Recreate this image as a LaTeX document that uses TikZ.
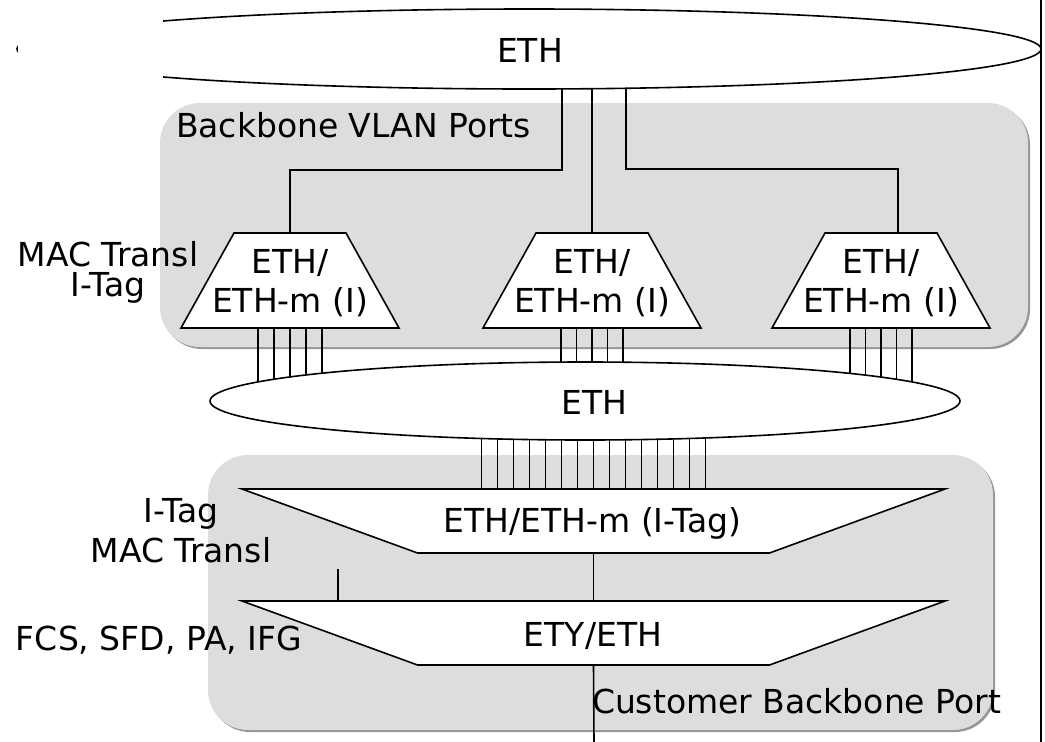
\documentclass[tikz,border=0pt]{standalone}
\usepackage{fontspec}
\setmainfont{DejaVu Sans}
\usetikzlibrary{shapes.geometric,calc}
\definecolor{boxgrey}{RGB}{221,221,221}
\definecolor{shadowgrey}{RGB}{150,150,150}
\pgfdeclarelayer{bg}
\pgfdeclarelayer{wires}
\pgfsetlayers{bg,wires,main}
\begin{document}
\begin{tikzpicture}[x=1pt,y=-1pt,
  every node/.style={font=\fontsize{33}{40}\selectfont, inner sep=0pt, outer sep=0pt},
  ln/.style={line width=1.6pt, black},
  ell/.style={ellipse, draw, line width=1.6pt, fill=white, inner sep=0pt},
  trapfill/.style={draw, line width=1.6pt, fill=white, line join=miter},
  lbl/.style={anchor=base}
]
\useasboundingbox (0,0) rectangle (1045,742);

% ellipses
\node[ell, minimum width=1024pt, minimum height=80pt] (eTop) at (529,49) {};
\fill[white] (18.0,0) rectangle (163,100);
\node[ell, minimum width=750pt, minimum height=78pt] (eMid) at (585,401) {};

% upper trapezoids (narrow top, wide bottom)
\foreach \n/\cx in {t1/290,t2/592,t3/881}{
  \coordinate (\n) at (\cx,280.5);
  \coordinate (\n n) at ($(\n)+(0,-47.5)$);
  \coordinate (\n s) at ($(\n)+(0,47.5)$);
  \draw[trapfill] ($(\n)+(-56,-47.5)$) -- ($(\n)+(56,-47.5)$) -- ($(\n)+(109,47.5)$) -- ($(\n)+(-109,47.5)$) -- cycle;
  \node[lbl] (\n a) at ($(\n)+(0,-7.5)$) {ETH/};
  \node[lbl] (\n b) at ($(\n)+(0,31.5)$) {ETH-m (I)};
}
% lower trapezoids (wide top, narrow bottom)
\foreach \n/\cy in {b1/521,b2/633}{
  \coordinate (\n) at (593.5,\cy);
  \coordinate (\n n) at ($(\n)+(0,-32)$);
  \coordinate (\n s) at ($(\n)+(0,32)$);
  \draw[trapfill] ($(\n)+(-351.5,-32)$) -- ($(\n)+(351.5,-32)$) -- ($(\n)+(176,32)$) -- ($(\n)+(-176,32)$) -- cycle;
}

% texts
\node[lbl] (ethTop) at (530,62) {ETH};
\node[lbl] (ethMid) at (594.5,414) {ETH};
\node[lbl] (b1txt) at (592.5,532) {ETH/ETH-m (I-Tag)};
\node[lbl] (b2txt) at (593,646) {ETY/ETH};
\node[lbl, anchor=base west] (bvp) at (176,137) {Backbone VLAN Ports};
\node[lbl] (mt1) at (108,266) {MAC Transl};
\node[lbl] (it1) at (108,296) {I-Tag};
\node[lbl] (it2) at (181,522) {I-Tag};
\node[lbl] (mt2) at (181,562) {MAC Transl};
\node[lbl, anchor=base west] (fcs) at (16,650) {FCS, SFD, PA, IFG};
\node[lbl, anchor=base west] (cbp) at (592,713) {Customer Backbone Port};

\coordinate (rtop) at (1041,0);
\coordinate (rbot) at (1041,742);
\coordinate (bend) at (594,742);
\coordinate (tick) at (338,569);

\begin{pgfonlayer}{bg}
  \fill[shadowgrey, rounded corners=40pt] (162,105) rectangle (1030,349);
  \fill[boxgrey, rounded corners=40pt] (160,103) rectangle (1028,347);
  \fill[shadowgrey, rounded corners=40pt] (210,457) rectangle (995,732);
  \fill[boxgrey, rounded corners=40pt] (208,455) rectangle (993,730);
\end{pgfonlayer}

\begin{pgfonlayer}{wires}
  % top ellipse to trapezoids
  \draw[ln] (eTop.center) ++(33,0) -- ++(0,121) -| (t1n);
  \draw[ln] (eTop.center -| t2n) -- (t2n);
  \draw[ln] (eTop.center) ++(97,0) -- ++(0,120) -| ($(t3n)+(17,0)$);
  % trapezoids to middle ellipse
  \foreach \dx in {-32,-16,0,16,32}{
    \draw[ln] ($(t1s)+(\dx,0)$) -- ($(t1s)+(\dx,73)$);
  }
  \foreach \dx in {-31,-15.5,0,15.5,31}{
    \draw[ln] ($(t2s)+(\dx,0)$) -- ($(t2s)+(\dx,73)$);
    \draw[ln] ($(t3s)+(\dx,0)$) -- ($(t3s)+(\dx,73)$);
  }
  % middle ellipse to I-Tag trapezoid
  \foreach \k in {-7,...,7}{
    \draw[ln] ($(b1n)+(16*\k,0)$) -- ($(b1n)+(16*\k,-88)$);
  }
  \draw[ln] (b1s) -- (b2n);
  \draw[ln] (tick) -- (tick |- b2n);
  \draw[ln] (b2s) -- (bend);
  \draw[ln] (rtop) -- (rbot);
\end{pgfonlayer}
\end{tikzpicture}
\end{document}
